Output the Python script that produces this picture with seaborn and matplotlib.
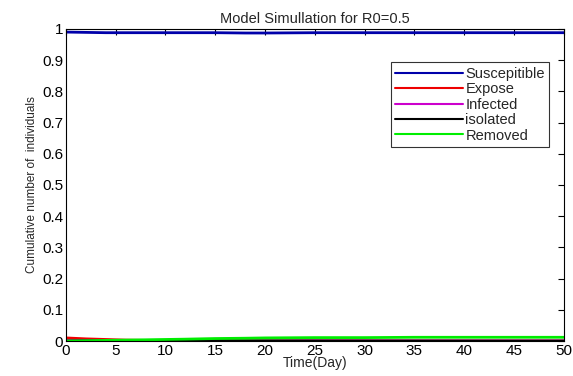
import numpy as np
import pandas as pd
import matplotlib
matplotlib.use("Agg")
import matplotlib.pyplot as plt
import seaborn as sns

### Dados
dias = [0, 2, 4, 6, 8, 10, 12, 15, 18, 20, 25, 30, 35, 40, 45, 50]
suscetivel = [0.990, 0.989, 0.988, 0.988, 0.988, 0.988, 0.988, 0.988, 0.987, 0.987, 0.988, 0.988, 0.988, 0.988, 0.988, 0.988]
exposto = [0.010, 0.007, 0.005, 0.003, 0.002, 0.001, 0.0007, 0.0004, 0.0002, 0.0001, 0.0, 0.0, 0.0, 0.0, 0.0, 0.0]
infectado = [0.001, 0.002, 0.002, 0.002, 0.001, 0.001, 0.001, 0.0005, 0.0003, 0.0002, 0.0001, 0.0, 0.0, 0.0, 0.0, 0.0]
isolado = [0.0, 0.001, 0.001, 0.001, 0.001, 0.001, 0.001, 0.001, 0.0008, 0.0006, 0.0004, 0.0003, 0.0002, 0.0001, 0.0, 0.0]
removido = [0.0, 0.001, 0.002, 0.003, 0.004, 0.005, 0.006, 0.008, 0.009, 0.010, 0.011, 0.011, 0.012, 0.012, 0.012, 0.012]

nomes = ["Suscepitible", "Expose", "Infected", "isolated", "Removed"]
cores = ["#0000aa", "#ee0000", "#cc00cc", "#000000", "#00ee00"]

df = pd.DataFrame({"t": dias, nomes[0]: suscetivel, nomes[1]: exposto,
                   nomes[2]: infectado, nomes[3]: isolado, nomes[4]: removido})
longo = df.melt(id_vars="t", var_name="grupo", value_name="valor")

sns.set_style("white")
plt.rcParams["font.family"] = ["Liberation Sans", "DejaVu Sans"]

fig = plt.figure(figsize=(5.73, 3.76), dpi=100)
ax = fig.add_axes([0.115, 0.093, 0.869, 0.83])
sns.lineplot(data=longo, x="t", y="valor", hue="grupo", hue_order=nomes,
             palette=cores, linewidth=2, ax=ax)

ax.set_xlim(0, 50)
ax.set_ylim(0, 1)
ax.set_xticks(np.arange(0, 51, 5))
ax.set_yticks(np.arange(0, 1.01, 0.1))
ax.set_yticklabels(["0", "0.1", "0.2", "0.3", "0.4", "0.5", "0.6", "0.7", "0.8", "0.9", "1"])
ax.tick_params(direction="in", top=True, right=True, length=4, width=0.8,
               labelsize=11, pad=2, colors="black")
for s in ax.spines.values():
    s.set_color("black")
    s.set_linewidth(0.8)
ax.set_xlabel("Time(Day)", fontsize=10, labelpad=-1)
ax.set_ylabel("Cumulative number of  individuals", fontsize=8.5, labelpad=3)
ax.set_title("Model Simullation for R0=0.5", fontsize=10.5, pad=4)

leg = ax.legend(loc="upper left", bbox_to_anchor=(0.653, 0.893), fontsize=10.5,
                frameon=True, fancybox=False, edgecolor="black", handlelength=4.6,
                handletextpad=0.2, labelspacing=0.1, borderpad=0.3, borderaxespad=0)
leg.get_frame().set_linewidth(0.8)
for l in leg.get_lines():
    l.set_linewidth(1.5)

plt.savefig("out.png", dpi=100)
